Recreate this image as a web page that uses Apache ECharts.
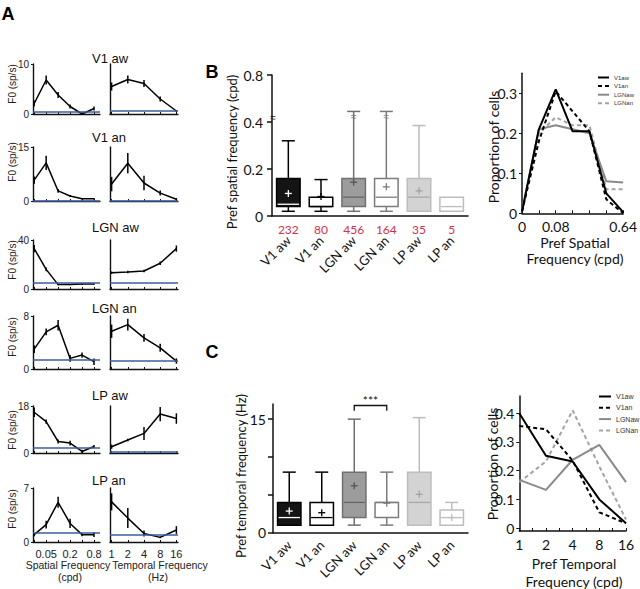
<!DOCTYPE html>
<html>
<head>
<meta charset="utf-8">
<script src="https://cdn.jsdelivr.net/npm/echarts@6.0.0/dist/echarts.min.js"></script>
<style>
html,body{margin:0;padding:0;background:#fff;}
#chart{width:640px;height:589px;}
</style>
</head>
<body>
<div id="chart"></div>
<script>
// ================= DATA =================
// ---- Panel A : tuning curves (F0, sp/s) ----
const panelARows = ['V1 aw', 'V1 an', 'LGN aw', 'LGN an', 'LP aw', 'LP an'];
const sfTickLabels = ['0.025', '0.05', '0.1', '0.2', '0.4', '0.8'];   // spatial frequency (cpd)
const sfShownTicks = [1, 3, 5];
const tfTickLabels = ['1', '2', '4', '8', '16'];                      // temporal frequency (Hz)
const f0Max = [10, 15, 40, 8, 18, 7];

const v1awSF = [2.1, 6.8, 3.8, 1.5, 0.0, 1.1];
const v1awSFerr = [0.6, 0.9, 0.6, 0.4, 0.2, 0.4];
const v1awTF = [5.5, 6.9, 6.1, 3.0, 0.6];
const v1awTFerr = [0.8, 0.8, 0.7, 0.5, 0.2];

const v1anSF = [5.8, 10.6, 2.8, 1.4, 0.6, 0.6];
const v1anSFerr = [1.0, 2.0, 0.5, 0.3, 0.2, 0.2];
const v1anTF = [4.7, 10.5, 5.0, 2.2, 0.5];
const v1anTFerr = [2.0, 2.8, 2.0, 0.7, 0.3];

const lgnawSF = [33, 16, 3.6, 3.6, 4, 4];
const lgnawSFerr = [3, 1.5, 0.5, 0.5, 0.5, 0.5];
const lgnawTF = [13.3, 13.8, 14.7, 21, 33];
const lgnawTFerr = [1, 1, 1, 1.5, 2.5];

const lgnanSF = [3.0, 5.6, 6.6, 1.6, 2.1, 1.1];
const lgnanSFerr = [0.6, 0.5, 0.8, 0.5, 0.4, 0.5];
const lgnanTF = [5.7, 6.7, 4.7, 3.2, 1.2];
const lgnanTFerr = [1.0, 0.9, 0.6, 0.6, 0.4];

const lpawSF = [15.6, 12.0, 4.4, 3.8, 0.6, 2.5];
const lpawSFerr = [1.8, 0.8, 0.8, 0.9, 0.6, 0.6];
const lpawTF = [2.4, 5.0, 7.5, 14.9, 13.2];
const lpawTFerr = [0.8, 0.5, 2.5, 2.7, 2.0];

const lpanSF = [0.95, 2.25, 5.15, 2.4, 0.95, 0.95];
const lpanSFerr = [0.2, 0.5, 0.7, 0.6, 0.2, 0.3];
const lpanTF = [5.2, 3.1, 1.1, 0.6, 1.55];
const lpanTFerr = [1.1, 1.3, 0.4, 0.1, 0.5];

const baselineSF = [0.5, 0.2, 5, 1.35, 1.9, 1.2];
const baselineTF = [0.6, 0.1, 5.5, 1.3, 0.5, 1.0];

// ---- Panels B / C : box plots ----
const boxCategories = ['V1 aw', 'V1 an', 'LGN aw', 'LGN an', 'LP aw', 'LP an'];
const cellCounts = [232, 80, 456, 164, 35, 5];

const sfBoxMin = [0.02, 0.02, 0.02, 0.02, 0.02, 0.02];
const sfBoxQ1 = [0.04, 0.04, 0.04, 0.04, 0.02, 0.02];
const sfBoxMedian = [0.05, 0.04, 0.08, 0.08, 0.08, 0.04];
const sfBoxQ3 = [0.16, 0.08, 0.16, 0.16, 0.16, 0.08];
const sfBoxMax = [0.32, 0.155, 0.49, 0.49, 0.385, 0.08];
const sfBoxMean = [0.096, 0.083, 0.144, 0.124, 0.107, null];
const sfBoxTruncated = [false, false, true, true, false, false];
const sfAxisBreak = 0.435;
const sfAxisTickValues = [0, 0.2, 0.4, 0.8];

const tfBoxMin = [1, 1, 1, 1, 1, 1];
const tfBoxQ1 = [1, 1, 2, 2, 1, 1];
const tfBoxMedian = [2, 2, 4, 4, 4, 2];
const tfBoxQ3 = [4, 4, 8, 4, 8, 3];
const tfBoxMax = [8, 8, 15, 8, 15.2, 4];
const tfBoxMean = [2.86, 2.64, 6.2, 3.9, 5.07, 2.0];
const tfAxisTickValues = [0, 5, 10, 15];
const tfAxisLabelValues = [0, 15];
const sigPair = [2, 3];
const sigText = '***';

// ---- Distributions (proportion of cells) ----
const distNames = ['V1aw', 'V1an', 'LGNaw', 'LGNan'];
const sfDistTickPos = [0, 2, 6];
const sfDistTickText = ['0', '0.08', '0.64'];
const propSF_V1aw = [0.004, 0.21, 0.31, 0.205, 0.205, 0.05, 0.003];
const propSF_V1an = [0.005, 0.18, 0.305, 0.255, 0.205, 0.035, 0.0];
const propSF_LGNaw = [0.005, 0.21, 0.22, 0.21, 0.2, 0.08, 0.077];
const propSF_LGNan = [0.005, 0.2, 0.24, 0.22, 0.22, 0.06, 0.06];

const tfDistTickText = ['1', '2', '4', '8', '16'];
const propTF_V1aw = [0.40, 0.252, 0.232, 0.10, 0.017];
const propTF_V1an = [0.356, 0.344, 0.235, 0.055, 0.017];
const propTF_LGNaw = [0.168, 0.133, 0.238, 0.29, 0.16];
const propTF_LGNan = [0.16, 0.232, 0.41, 0.215, 0.03];

// ================= BUILD =================
const FA = 'Liberation Sans, Arial, sans-serif';
const FB = 'Lato, Carlito, Calibri, sans-serif';
const grids = [], xAxis = [], yAxis = [], series = [], graphic = [];

function addText(text, x, y, size, family, opts) {
  opts = opts || {};
  const al = opts.align || 'center';
  graphic.push({
    type: 'text', x: x, y: y, rotation: opts.rot || 0, silent: true, z: 100,
    style: {
      text: text, fontSize: size, fontFamily: family, fontWeight: opts.bold ? 'bold' : 'normal',
      fill: opts.fill || '#111', align: al, verticalAlign: 'middle', textAlign: al, textVerticalAlign: 'middle'
    }
  });
}

function errRender(params, api) {
  const p1 = api.coord([api.value(0), api.value(1)]);
  const p2 = api.coord([api.value(0), api.value(2)]);
  return { type: 'line', shape: { x1: p1[0], y1: p1[1], x2: p2[0], y2: p2[1] }, style: { stroke: '#000', lineWidth: 1.5 } };
}

// ---- Panel A ----
const aSF = [v1awSF, v1anSF, lgnawSF, lgnanSF, lpawSF, lpanSF];
const aSFerr = [v1awSFerr, v1anSFerr, lgnawSFerr, lgnanSFerr, lpawSFerr, lpanSFerr];
const aTF = [v1awTF, v1anTF, lgnawTF, lgnanTF, lpawTF, lpanTF];
const aTFerr = [v1awTFerr, v1anTFerr, lgnawTFerr, lgnanTFerr, lpawTFerr, lpanTFerr];
const aRowTop = [64, 147, 240, 316, 406, 488];
const aRowH = [50, 54, 49, 53, 47, 54];
const aTitleY = [58, 137, 227, 308, 395, 480];
const aF0Y = [84, 162, 260, 337, 430, 509];
const aLeft = [33, 110], aWidth = [67, 68], aXMax = [5.5, 4.1];

for (let r = 0; r < 6; r++) {
  for (let c = 0; c < 2; c++) {
    const gi = grids.length, xi = xAxis.length, yi = yAxis.length;
    grids.push({ left: aLeft[c], top: aRowTop[r], width: aWidth[c], height: aRowH[r] });
    const labels = c === 0 ? sfTickLabels : tfTickLabels;
    const tickVals = labels.map((_, i) => i);
    xAxis.push({
      gridIndex: gi, type: 'value', min: -0.1, max: aXMax[c], splitLine: { show: false },
      axisLine: { show: true, onZero: false, lineStyle: { color: '#111', width: 1.4 } },
      axisTick: { show: true, inside: true, length: 2, customValues: tickVals, lineStyle: { color: '#111' } },
      axisLabel: {
        show: r === 5, customValues: c === 0 ? sfShownTicks : tickVals,
        formatter: v => labels[Math.round(v)], fontSize: 11, fontFamily: FA, color: '#222', margin: 6
      }
    });
    yAxis.push({
      gridIndex: gi, type: 'value', min: 0, max: f0Max[r], splitLine: { show: false },
      axisLine: { show: true, onZero: false, lineStyle: { color: '#111', width: 1.4 } },
      axisTick: { show: c === 0, length: 2, customValues: [0, f0Max[r]], lineStyle: { color: '#111' } },
      axisLabel: { show: c === 0, customValues: [0, f0Max[r]], fontSize: 10, fontFamily: FA, color: '#222', margin: 4 }
    });
    const vals = (c === 0 ? aSF : aTF)[r];
    const errs = (c === 0 ? aSFerr : aTFerr)[r];
    series.push({
      type: 'line', xAxisIndex: xi, yAxisIndex: yi, data: vals.map((v, i) => [i, v]),
      symbol: 'none', color: '#000', lineStyle: { color: '#000', width: 1.5 }, z: 3, silent: true,
      markLine: {
        silent: true, symbol: ['none', 'none'], label: { show: false }, animation: false,
        lineStyle: { color: '#3d5d9c', width: 1.5, type: 'solid' },
        data: [{ yAxis: (c === 0 ? baselineSF : baselineTF)[r] }]
      }
    });
    series.push({
      type: 'custom', xAxisIndex: xi, yAxisIndex: yi, renderItem: errRender, z: 4, silent: true,
      encode: { x: 0, y: [1, 2] },
      data: vals.map((v, i) => [i, Math.max(0, v - errs[i]), v + errs[i]])
    });
  }
  addText(panelARows[r], 92, aTitleY[r], 13, FA, { align: 'left', fill: '#111' });
  addText('F0 (sp/s)', 12.5, aF0Y[r], 10, FA, { rot: Math.PI / 2, fill: '#222' });
}
addText('Spatial Frequency', 68, 565, 10.5, FA, { fill: '#222' });
addText('(cpd)', 70, 577, 10.5, FA, { fill: '#222' });
addText('Temporal Frequency', 160, 565, 10.5, FA, { fill: '#222' });
addText('(Hz)', 158, 577, 10.5, FA, { fill: '#222' });
addText('A', 8, 14, 18, FA, { bold: true, fill: '#000' });
addText('B', 212, 72, 18, FA, { bold: true, fill: '#000' });
addText('C', 212, 352, 18, FA, { bold: true, fill: '#000' });

// ---- Box plot helpers ----
const boxStyles = [
  { fill: '#141414', stroke: '#000', median: '#fff', mean: '#fff' },
  { fill: '#fff', stroke: '#000', median: '#000', mean: '#000' },
  { fill: '#9c9c9c', stroke: '#707070', median: '#666', mean: '#555' },
  { fill: '#fff', stroke: '#7c7c7c', median: '#7c7c7c', mean: '#7c7c7c' },
  { fill: '#d3d3d3', stroke: '#bdbdbd', median: '#a9a9a9', mean: '#a3a3a3' },
  { fill: '#fff', stroke: '#bdbdbd', median: '#bdbdbd', mean: '#bdbdbd' }
];
function makeBoxRender(axisBreakAt) {
  return function (params, api) {
    const i = api.value(0);
    const st = boxStyles[i];
    const band = api.size([1, 0])[0];
    const cx = api.coord([i, 0])[0];
    const bw = band * 0.72, cw = band * 0.4, lw = 1.5;
    const py = v => api.coord([i, v])[1];
    const yMin = py(api.value(1)), yQ1 = py(api.value(2)), yMed = py(api.value(3)),
          yQ3 = py(api.value(4)), yMax = py(api.value(5));
    const mean = api.value(6), trunc = api.value(7);
    const ch = [];
    const ln = (x1, y1, x2, y2, col, w) => ch.push({ type: 'line', shape: { x1, y1, x2, y2 }, style: { stroke: col, lineWidth: w || lw } });
    if (yMax < yQ3 - 0.5) { ln(cx, yMax, cx, yQ3, st.stroke); ln(cx - cw / 2, yMax, cx + cw / 2, yMax, st.stroke); }
    if (yMin > yQ1 + 0.5) { ln(cx, yQ1, cx, yMin, st.stroke); ln(cx - cw / 2, yMin, cx + cw / 2, yMin, st.stroke); }
    ch.push({ type: 'rect', shape: { x: cx - bw / 2, y: yQ3, width: bw, height: yQ1 - yQ3 }, style: { fill: st.fill, stroke: st.stroke, lineWidth: lw } });
    ln(cx - bw / 2 + 1, yMed, cx + bw / 2 - 1, yMed, st.median, 1.3);
    if (!isNaN(mean)) {
      const ym = py(mean);
      ln(cx - 3.5, ym, cx + 3.5, ym, st.mean, 1.3);
      ln(cx, ym - 3.5, cx, ym + 3.5, st.mean, 1.3);
    }
    if (trunc) {
      ch.push({ type: 'text', x: cx, y: yMax + 5, style: { text: '≈', fontSize: 10, fill: st.stroke, align: 'center', verticalAlign: 'middle', textAlign: 'center', textVerticalAlign: 'middle' } });
    }
    if (i === 0 && axisBreakAt != null) {
      const p = api.coord([i, axisBreakAt]);
      ch.push({ type: 'text', x: cx - band / 2 + 1, y: p[1], style: { text: '≈', fontSize: 10, fill: '#111', align: 'center', verticalAlign: 'middle', textAlign: 'center', textVerticalAlign: 'middle' } });
    }
    return { type: 'group', children: ch };
  };
}
// broken axis: values above 0.4 are compressed by 2
const sfT = v => (v <= 0.4 ? v : 0.4 + (v - 0.4) / 2);
const sfTinv = v => (v <= 0.4 ? v : 0.4 + (v - 0.4) * 2);

// ---- Panel B box plot ----
{
  const gi = grids.length, xi = xAxis.length, yi = yAxis.length;
  grids.push({ left: 272, top: 75, width: 196, height: 141 });
  xAxis.push({
    gridIndex: gi, type: 'category', data: boxCategories,
    axisLine: { lineStyle: { color: '#111', width: 1.5 } }, axisTick: { show: false },
    axisLabel: { rotate: 45, margin: 22, fontSize: 13, fontFamily: FB, color: '#111', interval: 0 }
  });
  xAxis.push({
    gridIndex: gi, type: 'category', position: 'bottom', data: cellCounts.map(String),
    axisLine: { show: false }, axisTick: { show: false },
    axisLabel: { margin: 7, fontSize: 12, fontFamily: FB, color: '#d5304a', interval: 0 }
  });
  const tickT = sfAxisTickValues.map(sfT);
  yAxis.push({
    gridIndex: gi, type: 'value', min: 0, max: sfT(0.8), splitLine: { show: false },
    axisLine: { show: true, lineStyle: { color: '#111', width: 1.5 } },
    axisTick: { show: true, length: 5, customValues: tickT, lineStyle: { color: '#111', width: 1.5 } },
    axisLabel: { customValues: tickT, fontSize: 14, fontFamily: FB, color: '#111', margin: 9,
      formatter: v => { const r = sfTinv(v); return r === 0 ? '0' : r.toFixed(1); } }
  });
  series.push({
    type: 'custom', xAxisIndex: xi, yAxisIndex: yi, renderItem: makeBoxRender(sfT(sfAxisBreak)), silent: true,
    encode: { x: 0, y: [1, 2, 3, 4, 5] },
    data: boxCategories.map((c, i) => [i, sfT(sfBoxMin[i]), sfT(sfBoxQ1[i]), sfT(sfBoxMedian[i]), sfT(sfBoxQ3[i]),
      sfT(sfBoxMax[i]), sfBoxMean[i] == null ? NaN : sfT(sfBoxMean[i]), sfBoxTruncated[i] ? 1 : 0])
  });
  addText('Pref spatial frequency (cpd)', 232, 152, 13, FB, { rot: Math.PI / 2 });
}

// ---- Panel C box plot ----
{
  const gi = grids.length, xi = xAxis.length, yi = yAxis.length;
  grids.push({ left: 273, top: 404, width: 195, height: 128.7 });
  xAxis.push({
    gridIndex: gi, type: 'category', data: boxCategories,
    axisLine: { lineStyle: { color: '#111', width: 1.5 } }, axisTick: { show: false },
    axisLabel: { rotate: 45, margin: 10, fontSize: 13, fontFamily: FB, color: '#111', interval: 0 }
  });
  yAxis.push({
    gridIndex: gi, type: 'value', min: 0, max: 17, splitLine: { show: false },
    axisLine: { show: true, lineStyle: { color: '#111', width: 1.5 } },
    axisTick: { show: true, length: 5, customValues: tfAxisTickValues, lineStyle: { color: '#111', width: 1.5 } },
    axisLabel: { customValues: tfAxisLabelValues, fontSize: 14, fontFamily: FB, color: '#111', margin: 7 }
  });
  series.push({
    type: 'custom', xAxisIndex: xi, yAxisIndex: yi, renderItem: makeBoxRender(null), silent: true,
    encode: { x: 0, y: [1, 2, 3, 4, 5] },
    data: boxCategories.map((c, i) => [i, tfBoxMin[i], tfBoxQ1[i], tfBoxMedian[i], tfBoxQ3[i], tfBoxMax[i],
      tfBoxMean[i] == null ? NaN : tfBoxMean[i], 0])
  });
  // significance bracket
  series.push({
    type: 'custom', xAxisIndex: xi, yAxisIndex: yi, silent: true, encode: { x: [0, 1], y: [2, 3] },
    data: [[sigPair[0], sigPair[1], 16.8, 16.1]],
    renderItem: function (params, api) {
      const a = api.coord([api.value(0), api.value(2)]);
      const b = api.coord([api.value(1), api.value(2)]);
      const lo = api.coord([api.value(0), api.value(3)])[1];
      return { type: 'group', children: [
        { type: 'polyline', shape: { points: [[a[0], lo], a, b, [b[0], lo]] }, style: { stroke: '#111', lineWidth: 1.3, fill: null } },
        { type: 'text', x: (a[0] + b[0]) / 2, y: a[1] - 5, style: { text: sigText, fontSize: 12, fontFamily: FB, fill: '#111', align: 'center', verticalAlign: 'middle', textAlign: 'center', textVerticalAlign: 'middle' } }
      ] };
    }
  });
  addText('Pref temporal frequency (Hz)', 241, 476, 13, FB, { rot: Math.PI / 2 });
}

// ---- Distribution line charts ----
const distStyles = [
  { color: '#000', type: 'solid' },
  { color: '#000', type: [4, 3] },
  { color: '#8a8a8a', type: 'solid' },
  { color: '#a3a3a3', type: [4, 3] }
];
function addDist(gridBox, xMax, xTicks, xLabelVals, xLabelFmt, yMin, yMax, dataSets) {
  const gi = grids.length, xi = xAxis.length, yi = yAxis.length;
  grids.push(gridBox);
  xAxis.push({
    gridIndex: gi, type: 'value', min: 0, max: xMax, splitLine: { show: false },
    axisLine: { show: true, onZero: false, lineStyle: { color: '#111', width: 1.5 } },
    axisTick: { show: true, inside: true, length: 3, customValues: xTicks, lineStyle: { color: '#111' } },
    axisLabel: { customValues: xLabelVals, formatter: xLabelFmt, fontSize: 14, fontFamily: FB, color: '#111', margin: 6 }
  });
  const yv = [0, 0.1, 0.2, 0.3, 0.4].filter(v => v <= yMax);
  yAxis.push({
    gridIndex: gi, type: 'value', min: yMin, max: yMax, splitLine: { show: false },
    axisLine: { show: true, onZero: false, lineStyle: { color: '#111', width: 1.5 } },
    axisTick: { show: true, length: 3, customValues: yv, lineStyle: { color: '#111' } },
    axisLabel: { customValues: yv, formatter: v => (v === 0 ? '0' : v.toFixed(1)), fontSize: 14, fontFamily: FB, color: '#111', margin: 5 }
  });
  dataSets.forEach((d, k) => {
    series.push({
      type: 'line', name: distNames[k], xAxisIndex: xi, yAxisIndex: yi, symbol: 'none', silent: true,
      color: distStyles[k].color, z: 10 - k,
      lineStyle: { color: distStyles[k].color, width: 2, type: distStyles[k].type },
      data: d.map((v, i) => [i, v])
    });
  });
}
addDist({ left: 522, top: 73.3, width: 105.3, height: 140 }, 6, [0, 1, 2, 3, 4, 5, 6], sfDistTickPos,
  v => sfDistTickText[sfDistTickPos.indexOf(Math.round(v))], 0, 0.35,
  [propSF_V1aw, propSF_V1an, propSF_LGNaw, propSF_LGNan]);
addText('Proportion of cells', 493, 147, 14, FB, { rot: Math.PI / 2 });
addText('Pref Spatial', 575, 242, 14, FB);
addText('Frequency (cpd)', 575, 258, 14, FB);

addDist({ left: 519.3, top: 396, width: 106.7, height: 135 }, 4, [0, 0.5, 1, 1.5, 2, 2.5, 3, 3.5, 4], [0, 1, 2, 3, 4],
  v => tfDistTickText[Math.round(v)], -0.01, 0.46,
  [propTF_V1aw, propTF_V1an, propTF_LGNaw, propTF_LGNan]);
addText('Proportion of cells', 492, 464, 14, FB, { rot: Math.PI / 2 });
addText('Pref Temporal', 574, 563, 14, FB);
addText('Frequency (cpd)', 574, 581, 14, FB);

const legendItemStyle = { color: 'rgba(0,0,0,0)', borderColor: 'rgba(0,0,0,0)', borderWidth: 0, opacity: 0 };
const chart = echarts.init(document.getElementById('chart'), null, { renderer: 'svg', width: 640, height: 589 });
chart.setOption({
  animation: false,
  backgroundColor: '#fff',
  grid: grids,
  xAxis: xAxis,
  yAxis: yAxis,
  series: series,
  graphic: graphic,
  legend: [
    { data: distNames, left: 597, top: 74.5, orient: 'vertical', itemWidth: 11, itemHeight: 5, itemGap: 2.6, padding: 0,
      selectedMode: false, itemStyle: legendItemStyle, textStyle: { fontSize: 6, fontFamily: FA, color: '#333' } },
    { data: distNames, left: 598, top: 393, orient: 'vertical', itemWidth: 12, itemHeight: 6, itemGap: 4.3, padding: 0,
      selectedMode: false, itemStyle: legendItemStyle, textStyle: { fontSize: 7, fontFamily: FA, color: '#333' } }
  ]
});
</script>
</body>
</html>
